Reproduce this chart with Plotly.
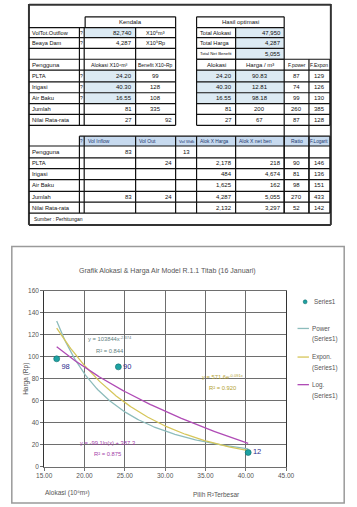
import numpy as np
import plotly.graph_objects as go

# ---------------- data ----------------
kendala_labels = ["VolTot.Outflow", "Beaya Dam"]
kendala_values = ["82,740", "4,287"]
kendala_units = ["X10⁶m³", "X10⁹Rp"]
hasil_labels = ["Total Alokasi", "Total Harga", "Total Net Benefit"]
hasil_values = ["47,950", "4,287", "5,055"]
pengguna = ["PLTA", "Irigasi", "Air Baku", "Jumlah", "Nilai Rata-rata"]
alokasi = ["24.20", "40.30", "16.55", "81", "27"]
benefit = ["99", "128", "108", "335", "92"]
harga = ["90.83", "12.81", "98.18", "200", "67"]
f_power = ["87", "74", "99", "260", "87"]
f_expon = ["129", "126", "130", "385", "128"]
lower_header = ["?", "Vol Inflow", "Vol Out", "Vol Wdk", "Alok X Harga", "Alok X net ben", "Ratio", "F.Logarit"]
pengguna_inflow = "83"
pengguna_wdk = "13"
vol_inflow = ["", "", "", "83", ""]
vol_out = ["24", "", "", "24", ""]
alok_x_harga = ["2,178", "484", "1,625", "4,287", "2,132"]
alok_x_netben = ["218", "4,674", "162", "5,055", "3,297"]
ratio = ["90", "81", "98", "270", "52"]
f_logarit = ["146", "136", "151", "433", "142"]

alok_pts = [24.20, 40.30, 16.55]
harga_pts = [90.83, 12.81, 98.18]
chart_title = "Grafik Alokasi & Harga Air Model R.1.1 Titab (16 Januari)"

# ---------------- helpers ----------------
W, H = 357, 507
FONT = "Liberation Sans Narrow, Liberation Sans, Arial, sans-serif"
fills, lines, annotations = [], [], []

def px(x): return x / W
def py(y): return 1 - y / H

def hline(x0, x1, y, w=1.2, c="#111"):
    lines.append(dict(type="line", xref="paper", yref="paper", x0=px(x0), x1=px(x1),
                      y0=py(y), y1=py(y), line=dict(color=c, width=w)))

def vline(x, y0, y1, w=1.2, c="#111"):
    lines.append(dict(type="line", xref="paper", yref="paper", x0=px(x), x1=px(x),
                      y0=py(y0), y1=py(y1), line=dict(color=c, width=w)))

def fill(x0, y0, x1, y1, c):
    fills.append(dict(type="rect", xref="paper", yref="paper", x0=px(x0), x1=px(x1),
                      y0=py(y1), y1=py(y0), fillcolor=c, line=dict(width=0), layer="below"))

def text(x, y, s, anchor="left", size=6, color="#111", **kw):
    annotations.append(dict(xref="paper", yref="paper", x=px(x), y=py(y), text=s, showarrow=False,
                            xanchor=anchor, yanchor="middle", font=dict(family=FONT, size=size, color=color), **kw))

def cell(x0, x1, y0, y1, s, align="left", **kw):
    if s == "":
        return
    if align == "left":
        text(x0 + 1.5, (y0 + y1) / 2, s, "left", **kw)
    elif align == "right":
        text(x1 - 1.5, (y0 + y1) / 2, s, "right", **kw)
    else:
        text((x0 + x1) / 2, (y0 + y1) / 2, s, "center", **kw)

BLUE = "#dceaf3"
BLUE_H = "#c7daef"

# ---------------- table ----------------
vline(22, 0, 224, 2, "#333"); vline(339, 0, 224, 2, "#333")
hline(22, 339, 0.8, 2, "#333"); hline(22, 339, 224, 2, "#333")

cL = [22, 75, 80, 134, 176]
rL = [24, 34, 45, 56, 67, 79, 90, 101, 112, 123]
cR = [198, 239, 290, 316, 338]

hline(81, 176, 13); vline(81, 13, 24); vline(176, 13, 24)
cell(81, 176, 13, 24, "Kendala", "center")
for y in rL:
    hline(22, 176, y)
for x in cL[1:]:
    vline(x, 24, 123)

fill(81, 24, 134, 34, BLUE)
for i in range(2):
    y0, y1 = rL[i], rL[i + 1]
    cell(22, 75, y0, y1, kendala_labels[i], size=5.6)
    cell(75, 80, y0, y1, "?", "center", size=5)
    cell(80, 134, y0, y1, kendala_values[i], "right")
    cell(134, 176, y0, y1, kendala_units[i], "center", size=5.5)
cell(22, 75, 56, 67, "Pengguna")
cell(80, 134, 56, 67, "Alokasi X10⁶m³", "center", size=5.3)
cell(134, 176, 56, 67, "Benefit X10⁹Rp", "center", size=5)
for i in range(5):
    y0, y1 = rL[i + 4], rL[i + 5]
    if i < 3:
        fill(81, y0, 134, y1, BLUE)
        cell(75, 80, y0, y1, "?", "center", size=5)
    cell(22, 75, y0, y1, pengguna[i], size=5.8)
    cell(80, 134, y0, y1, alokasi[i], "right")
    cell(134, 176, y0, y1, benefit[i], "right" if i == 4 else "center")

hline(198, 290, 13); vline(198, 13, 24); vline(290, 13, 24)
cell(198, 290, 13, 24, "Hasil optimasi", "center")
for y in rL[:4]:
    hline(198, 290, y)
for x in cR[:3]:
    vline(x, 24, 56)
for i in range(3):
    y0, y1 = rL[i], rL[i + 1]
    fill(239, y0, 290, y1, BLUE)
    cell(198, 239, y0, y1, hasil_labels[i], size=5.6 if i < 2 else 4.3)
    cell(239, 290, y0, y1, hasil_values[i], "right")
for y in rL[3:]:
    hline(198, 338, y)
vline(198, 56, 123); vline(239, 56, 123); vline(338, 56, 123)
vline(290, 56, 212); vline(316, 56, 212)
cell(198, 239, 56, 67, "Alokasi", "center")
cell(239, 290, 56, 67, "Harga / m³", "center")
cell(290, 316, 56, 67, "F.power", "center", size=5)
cell(316, 338, 56, 67, "F.Expon", "center", size=5)
for i in range(5):
    y0, y1 = rL[i + 4], rL[i + 5]
    if i < 3:
        fill(198, y0, 290, y1, BLUE)
    cell(198, 239, y0, y1, alokasi[i], "right")
    cell(239, 290, y0, y1, harga[i], "center")
    cell(290, 316, y0, y1, f_power[i], "center")
    cell(316, 338, y0, y1, f_expon[i], "center")

cB = [22, 75, 80, 134, 176, 198, 239, 290, 316, 338]
rB = [134, 144, 156, 167, 178, 190, 201, 212]
fill(75, 134, 338, 144, BLUE_H)
hline(75, 338, 134)
for y in rB[1:]:
    hline(22, 338, y)
for x in cB[1:]:
    vline(x, 134, 212)
hdr_align = ["center", "left", "left", "left", "left", "left", "center", "center"]
hdr_size = [4.5, 5, 5, 4.2, 4.8, 5, 5, 4.6]
for j, h in enumerate(lower_header):
    cell(cB[j + 1], cB[j + 2], 134, 144, h, hdr_align[j], color="#23386e", size=hdr_size[j])
cell(22, 75, 144, 156, "Pengguna")
cell(80, 134, 144, 156, pengguna_inflow, "right")
cell(176, 198, 144, 156, pengguna_wdk, "center")
for i in range(5):
    y0, y1 = rB[i + 2], rB[i + 3]
    cell(22, 75, y0, y1, pengguna[i], size=5.8)
    cell(80, 134, y0, y1, vol_inflow[i], "right")
    cell(134, 176, y0, y1, vol_out[i], "right")
    cell(198, 239, y0, y1, alok_x_harga[i], "right")
    cell(239, 290, y0, y1, alok_x_netben[i], "right")
    cell(290, 316, y0, y1, ratio[i], "center")
    cell(316, 338, y0, y1, f_logarit[i], "center")
text(25, 218, "Sumber : Perhitungan", size=5)

# ---------------- chart ----------------
lines.append(dict(type="rect", xref="paper", yref="paper", x0=px(4), x1=px(353), y0=py(506), y1=py(246),
                  line=dict(color="#9a9a9a", width=1.5)))
text(167, 271, chart_title, "center", size=7, color="#555")

xa = np.array(alok_pts)
ya = np.array(harga_pts)
xs = np.linspace(xa.min(), xa.max(), 150)

def r2(y, yhat):
    return 1 - np.sum((y - yhat) ** 2) / np.sum((y - y.mean()) ** 2)

bp, ap = np.polyfit(np.log(xa), np.log(ya), 1)
be, ae = np.polyfit(xa, np.log(ya), 1)
bl, al = np.polyfit(np.log(xa), ya, 1)
r2p = r2(np.log(ya), ap + bp * np.log(xa))
r2e = r2(np.log(ya), ae + be * xa)
r2l = r2(ya, al + bl * np.log(xa))

C_POW, C_EXP, C_LOG = "#8dbcbc", "#d6c65a", "#b04cb6"
C_PT = "#1ea2a2"

fig = go.Figure()
fig.add_trace(go.Scatter(x=xs, y=np.exp(ap) * xs ** bp, mode="lines", line=dict(color=C_POW, width=1.3),
                         name="Power (Series1)", hoverinfo="skip"))
fig.add_trace(go.Scatter(x=xs, y=np.exp(ae + be * xs), mode="lines", line=dict(color=C_EXP, width=1.3),
                         name="Expon. (Series1)", hoverinfo="skip"))
fig.add_trace(go.Scatter(x=xs, y=al + bl * np.log(xs), mode="lines", line=dict(color=C_LOG, width=1.3),
                         name="Log. (Series1)", hoverinfo="skip"))
fig.add_trace(go.Scatter(x=alok_pts, y=harga_pts, mode="markers+text", name="Series1",
                         text=[str(int(v)) for v in harga_pts],
                         textposition=["middle right", "middle right", "bottom right"],
                         textfont=dict(family=FONT, size=7.5, color="#2a2a8c"),
                         marker=dict(color=C_PT, size=6, line=dict(color="#0d6d6d", width=0.6))))

def eq(x, y, s, c):
    annotations.append(dict(xref="x", yref="y", x=x, y=y, text=s, showarrow=False, xanchor="center",
                            yanchor="middle", font=dict(family=FONT, size=5.8, color=c)))

eq(23.2, 117, f"y = {np.exp(ap):.0f}x<sup>{bp:.3f}</sup>", "#5f7f7f")
eq(23.2, 105.5, f"R² = {r2p:.3f}", "#5f7f7f")
eq(37.1, 82, f"y = {np.exp(ae):.1f}e<sup>{be:.3f}x</sup>", "#b3a232")
eq(37.1, 72, f"R² = {r2e:.3f}", "#b3a232")
eq(22.9, 21.6, f"y = {bl:.1f}ln(x) + {al:.1f}", "#a43ea8")
eq(22.9, 11.5, f"R² = {r2l:.3f}", "#a43ea8")

text(19, 380, "Harga (Rp)", "center", size=6.5, color="#555", textangle=-90)
text(62, 496, "Alokasi (10⁶m³)", "center", size=6.5, color="#555")
text(219, 497, "Pilih R²Terbesar", "center", size=6.5, color="#555")

lines.append(dict(type="circle", xref="paper", yref="paper", x0=px(310), x1=px(314), y0=py(304), y1=py(300),
                  fillcolor=C_PT, line=dict(color="#0d6d6d", width=0.6)))
text(319, 302, "Series1", size=6.3, color="#555")
for (yy, c, nm) in [(329, C_POW, "Power"), (358, C_EXP, "Expon."), (386, C_LOG, "Log.")]:
    hline(304, 316, yy, 1.3, c)
    text(317, yy, nm, size=6.3, color="#555")
    text(317, yy + 11, "(Series1)", size=6.3, color="#555")

fig.update_layout(
    width=W, height=H, autosize=False,
    margin=dict(l=0, r=0, t=0, b=0),
    paper_bgcolor="white", plot_bgcolor="white",
    showlegend=False,
    shapes=fills + lines,
    annotations=annotations,
    font=dict(family=FONT, size=7, color="#555"),
    xaxis=dict(domain=[px(38), px(292)], range=[15, 45], dtick=5, tick0=15, tickformat=".2f",
               showgrid=True, gridcolor="#6e6e6e", gridwidth=1, showline=True, linecolor="#6e6e6e",
               mirror=True, ticks="outside", ticklen=3, tickcolor="#6e6e6e", zeroline=False,
               tickfont=dict(family=FONT, size=6.5, color="#555")),
    yaxis=dict(domain=[py(469), py(291)], range=[0, 160], dtick=20, tick0=0,
               showgrid=True, gridcolor="#6e6e6e", gridwidth=1, showline=True, linecolor="#333",
               mirror=True, ticks="outside", ticklen=3, tickcolor="#6e6e6e", zeroline=False,
               tickfont=dict(family=FONT, size=6.5, color="#555")),
)
fig.write_html("out.html")
